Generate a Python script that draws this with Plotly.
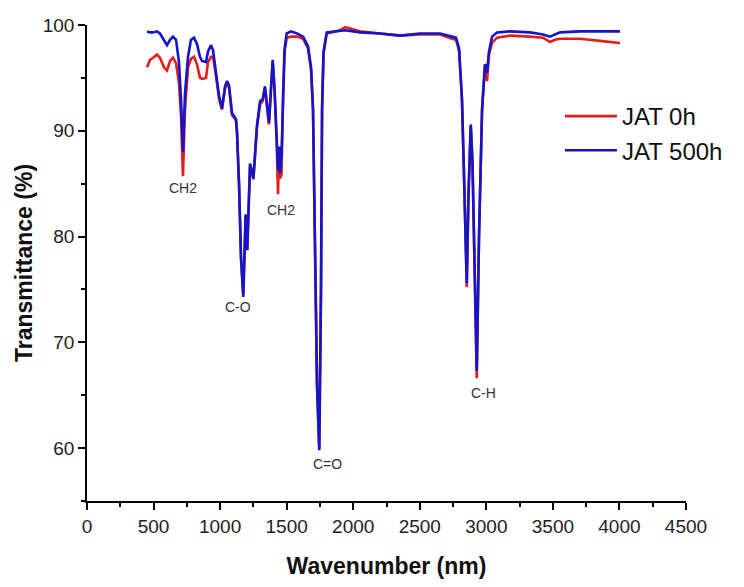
import plotly.graph_objects as go

wavenumber = [451, 473, 496, 526, 548, 578, 601, 624, 646, 669,
              691, 706, 721, 736, 759, 781, 804, 826, 849, 864,
              894, 909, 932, 947, 969, 992, 1014, 1037, 1052, 1067,
              1089, 1104, 1119, 1127, 1142, 1157, 1174, 1192, 1204, 1225,
              1250, 1277, 1300, 1320, 1337, 1352, 1367, 1382, 1395, 1409,
              1425, 1435, 1443, 1450, 1461, 1473, 1484, 1500, 1533, 1578,
              1623, 1660, 1683, 1698, 1713, 1728, 1745, 1758, 1766, 1777,
              1801, 1901, 1940, 2051, 2201, 2352, 2502, 2652, 2742, 2772,
              2795, 2817, 2836, 2853, 2866, 2883, 2896, 2911, 2928, 2945,
              2968, 2990, 3005, 3020, 3043, 3080, 3178, 3328, 3426, 3478,
              3516, 3554, 3704, 3854, 4004]

jat_0h = [96.0, 96.7, 96.9, 97.2, 96.9, 96.0, 95.7, 96.6, 96.9, 96.4,
          94.5, 91.5, 85.7, 92.0, 96.0, 96.8, 97.0, 96.3, 95.0, 94.9,
          95.0, 96.5, 97.0, 97.0, 95.2, 93.0, 92.0, 94.0, 94.5, 94.1,
          91.5, 91.2, 91.0, 89.8, 85.0, 78.0, 74.5, 82.0, 78.8, 86.8,
          85.4, 90.3, 92.5, 92.8, 94.0, 92.3, 90.6, 93.8, 96.5, 93.8,
          89.0, 84.0, 88.0, 85.5, 85.8, 93.5, 97.4, 98.8, 98.9, 98.9,
          98.7, 97.8, 95.8, 92.0, 80.0, 66.0, 60.0, 75.0, 92.0, 97.3,
          99.2, 99.5, 99.8, 99.4, 99.2, 99.0, 99.1, 99.1, 98.7, 98.6,
          97.6, 93.0, 84.0, 75.2, 84.0, 90.5, 87.0, 76.0, 66.6, 80.0,
          92.0, 96.2, 94.7, 97.2, 98.3, 98.8, 99.0, 98.9, 98.8, 98.4,
          98.6, 98.7, 98.7, 98.5, 98.3]

jat_500h = [99.4, 99.3, 99.3, 99.4, 99.2, 98.6, 98.1, 98.6, 98.9, 98.6,
            96.5, 93.0, 88.0, 93.5, 97.0, 98.6, 98.8, 98.2, 97.0, 96.6,
            96.5, 97.5, 98.1, 97.6, 95.5, 93.3, 92.1, 94.2, 94.7, 94.3,
            91.7, 91.4, 91.1, 89.9, 85.0, 78.0, 74.3, 82.1, 78.7, 86.9,
            85.5, 90.5, 92.8, 93.0, 94.2, 92.5, 90.8, 94.0, 96.7, 94.0,
            89.3, 86.3, 88.5, 86.0, 87.5, 94.0, 97.7, 99.2, 99.4, 99.2,
            98.9, 98.0, 96.0, 92.0, 80.0, 66.0, 59.8, 75.0, 92.0, 97.5,
            99.3, 99.4, 99.5, 99.3, 99.2, 99.0, 99.2, 99.2, 98.9, 98.8,
            97.8, 93.0, 84.0, 75.6, 84.0, 90.6, 87.0, 76.0, 67.3, 80.0,
            92.0, 96.3, 95.5, 97.5, 98.9, 99.3, 99.4, 99.3, 99.1, 98.9,
            99.1, 99.3, 99.4, 99.4, 99.4]

peak_labels = ["CH2", "C-O", "CH2", "C=O", "C-H"]
peak_label_x = [721, 1134, 1458, 1803, 2975]
peak_label_y = [84.6, 73.3, 82.5, 58.5, 65.2]

FONT = "Liberation Sans, Arial, sans-serif"

fig = go.Figure()
fig.add_trace(go.Scatter(x=wavenumber, y=jat_0h, mode="lines", name="JAT 0h",
                         line=dict(color="#e01e1e", width=2.6)))
fig.add_trace(go.Scatter(x=wavenumber, y=jat_500h, mode="lines", name="JAT 500h",
                         line=dict(color="#1414c8", width=2.6)))

for t, x, y in zip(peak_labels, peak_label_x, peak_label_y):
    fig.add_annotation(x=x, y=y, text=t, showarrow=False,
                       font=dict(family=FONT, size=14, color="#333333"))

axis_common = dict(
    showline=True, linecolor="black", linewidth=1.5, mirror=False,
    ticks="outside", ticklen=7, tickwidth=1.5, tickcolor="black",
    showgrid=False, zeroline=False,
    tickfont=dict(family=FONT, size=19, color="#222222"),
)

fig.update_xaxes(range=[0, 4500], dtick=500, tick0=0,
                 title=dict(text="<b>Wavenumber (nm)</b>", font=dict(family=FONT, size=23, color="#111111"), standoff=22),
                 minor=dict(ticks="outside", ticklen=4, tickwidth=1.5, tickcolor="black", dtick=250, tick0=0),
                 **axis_common)
fig.update_yaxes(range=[55, 100], dtick=10, tick0=0,
                 title=dict(text="<b>Transmittance (%)</b>", font=dict(family=FONT, size=23, color="#111111"), standoff=4),
                 minor=dict(ticks="outside", ticklen=4, tickwidth=1.5, tickcolor="black", dtick=5, tick0=0),
                 **axis_common)

fig.update_layout(
    width=744, height=587,
    margin=dict(l=87, r=58, t=25, b=80),
    paper_bgcolor="white", plot_bgcolor="white",
    showlegend=True,
    legend=dict(x=1.07, y=0.855, xanchor="right", yanchor="top",
                font=dict(family=FONT, size=24, color="#111111"),
                bgcolor="rgba(0,0,0,0)", itemwidth=52, tracegroupgap=0),
)

fig.write_html("out.html")
